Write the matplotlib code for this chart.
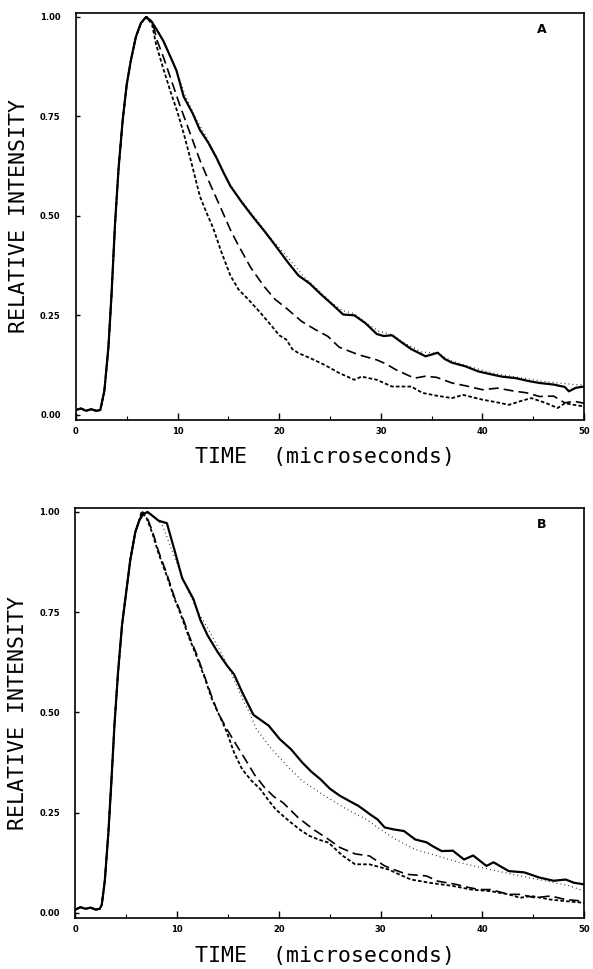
import numpy as np
import matplotlib
matplotlib.use("Agg")
import matplotlib.pyplot as plt
from matplotlib.ticker import MultipleLocator, FormatStrFormatter

# shared rise of the pulse (time in microseconds, relative intensity)
rise_A_t = [0.0, 0.5, 1.0, 1.5, 2.0, 2.4, 2.8, 3.2, 3.5, 3.85, 4.2, 4.6, 5.0, 5.4, 5.9, 6.4]
rise_A_y = [0.012, 0.016, 0.010, 0.014, 0.010, 0.012, 0.06, 0.17, 0.30, 0.48, 0.62, 0.74, 0.83, 0.89, 0.95, 0.985]

# panel A decays
A_solid_t = [6.9, 7.4, 7.9, 8.6, 9.3, 9.9, 10.6, 11.5, 12.2, 13.0, 13.85, 14.5, 15.2, 16.3, 17.4, 18.6,
             19.7, 20.8, 21.9, 23.0, 24.1, 25.2, 26.3, 27.4, 28.5, 29.6, 30.3, 31.1, 32.0, 33.0, 34.4,
             35.6, 36.3, 37.0, 38.3, 39.6, 40.8, 41.9, 43.3, 44.5, 45.6, 47.0, 48.1, 48.5, 49.2, 50.0]
A_solid_y = [1.0, 0.99, 0.97, 0.94, 0.90, 0.865, 0.80, 0.757, 0.716, 0.685, 0.645, 0.61, 0.575, 0.535,
             0.498, 0.46, 0.423, 0.385, 0.350, 0.330, 0.303, 0.278, 0.252, 0.250, 0.230, 0.203, 0.198,
             0.200, 0.183, 0.165, 0.147, 0.156, 0.140, 0.131, 0.122, 0.109, 0.102, 0.096, 0.092, 0.085,
             0.080, 0.076, 0.070, 0.059, 0.068, 0.071]

A_dot_t = [6.9, 7.5, 8.2, 9.0, 9.8, 10.8, 11.8, 12.8, 13.8, 15.0, 16.2, 17.5, 18.8, 20.0, 21.2, 22.5,
           23.8, 25.0, 26.2, 27.3, 28.5, 29.8, 31.0, 32.5, 34.0, 35.5, 37.0, 38.5, 40.0, 41.5, 43.0,
           44.5, 46.0, 47.5, 49.0, 50.0]
A_dot_y = [1.0, 0.99, 0.96, 0.915, 0.87, 0.80, 0.745, 0.70, 0.65, 0.585, 0.54, 0.50, 0.455, 0.42,
           0.385, 0.345, 0.315, 0.285, 0.262, 0.255, 0.232, 0.210, 0.202, 0.178, 0.158, 0.155, 0.135,
           0.123, 0.112, 0.102, 0.096, 0.090, 0.084, 0.080, 0.076, 0.075]

A_dash_t = [6.9, 7.6, 8.0, 8.6, 9.4, 10.2, 11.2, 12.2, 13.2, 14.2, 15.2, 15.9, 17.2, 18.5, 19.6, 20.7,
            22.2, 23.5, 24.8, 25.9, 27.8, 29.6, 30.5, 31.5, 33.3, 34.4, 35.5, 37.0, 38.5, 40.0, 41.5,
            43.0, 44.4, 45.6, 47.0, 48.1, 49.0, 50.0]
A_dash_y = [1.0, 0.98, 0.94, 0.90, 0.84, 0.78, 0.71, 0.64, 0.58, 0.523, 0.465, 0.43, 0.37, 0.323,
            0.29, 0.268, 0.235, 0.215, 0.197, 0.170, 0.151, 0.138, 0.128, 0.113, 0.092, 0.097, 0.094,
            0.080, 0.072, 0.063, 0.067, 0.060, 0.055, 0.046, 0.047, 0.030, 0.034, 0.029]

A_short_t = [7.0, 7.5, 7.9, 8.6, 9.25, 10.0, 10.6, 11.4, 12.2, 12.9, 13.5, 14.3, 15.2, 16.0, 17.0,
             18.2, 19.3, 20.0, 20.7, 21.3, 21.9, 23.0, 24.1, 25.0, 25.9, 27.4, 28.1, 29.6, 31.1, 33.0,
             34.1, 35.5, 37.0, 38.1, 40.0, 41.3, 42.6, 43.7, 44.8, 46.3, 47.4, 48.1, 49.0, 50.0]
A_short_y = [1.0, 0.98, 0.93, 0.87, 0.817, 0.76, 0.708, 0.63, 0.549, 0.505, 0.47, 0.41, 0.35, 0.315,
             0.289, 0.255, 0.222, 0.200, 0.189, 0.165, 0.155, 0.143, 0.130, 0.118, 0.105, 0.088,
             0.096, 0.088, 0.071, 0.071, 0.055, 0.048, 0.042, 0.050, 0.038, 0.032, 0.025, 0.034,
             0.042, 0.029, 0.017, 0.029, 0.025, 0.021]

# panel B
rise_B_t = [0.0, 0.5, 1.0, 1.5, 2.0, 2.4, 2.6, 2.9, 3.25, 3.55, 3.85, 4.2, 4.6, 5.0, 5.4, 5.9, 6.3]
rise_B_y = [0.008, 0.014, 0.010, 0.013, 0.008, 0.010, 0.02, 0.08, 0.20, 0.33, 0.47, 0.60, 0.72, 0.80,
            0.88, 0.95, 0.98]

B_solid_t = [6.7, 7.1, 7.6, 8.2, 9.0, 9.8, 10.5, 11.6, 12.3, 13.0, 14.0, 14.9, 15.6, 16.4, 17.5, 19.0,
             20.1, 21.2, 22.3, 23.2, 24.1, 25.0, 26.0, 27.0, 27.8, 28.2, 29.0, 29.7, 30.4, 31.3, 32.3,
             33.4, 34.5, 35.2, 36.0, 37.1, 38.2, 39.1, 40.4, 41.1, 42.6, 44.1, 45.6, 47.0, 48.2, 49.0,
             50.0]
B_solid_y = [0.995, 1.0, 0.99, 0.978, 0.972, 0.90, 0.835, 0.783, 0.73, 0.692, 0.65, 0.617, 0.595,
             0.55, 0.494, 0.467, 0.433, 0.408, 0.375, 0.352, 0.333, 0.310, 0.292, 0.278, 0.267, 0.260,
             0.245, 0.233, 0.213, 0.208, 0.204, 0.183, 0.176, 0.165, 0.154, 0.155, 0.133, 0.143,
             0.117, 0.126, 0.104, 0.101, 0.088, 0.080, 0.083, 0.075, 0.071]

B_dot_t = [6.7, 7.3, 7.9, 8.6, 9.7, 10.8, 11.9, 13.0, 14.2, 15.3, 16.4, 17.1, 17.8, 19.3, 20.8, 22.3,
           24.5, 26.7, 28.6, 29.7, 31.5, 33.4, 35.6, 37.8, 40.8, 43.7, 46.3, 48.5, 50.0]
B_dot_y = [0.99, 0.998, 0.985, 0.965, 0.89, 0.82, 0.758, 0.71, 0.655, 0.60, 0.535, 0.50, 0.458, 0.408,
           0.367, 0.329, 0.292, 0.258, 0.233, 0.213, 0.183, 0.158, 0.142, 0.125, 0.108, 0.092, 0.079,
           0.068, 0.054]

B_dash_t = [6.6, 7.0, 7.6, 8.2, 9.0, 9.7, 10.5, 11.2, 12.0, 12.7, 13.4, 14.0, 14.9, 15.8, 16.7, 17.6,
            18.6, 19.5, 20.4, 21.9, 23.4, 24.9, 26.0, 27.5, 28.9, 30.4, 31.5, 32.6, 34.5, 35.6, 37.4,
            38.5, 39.7, 40.8, 42.6, 43.7, 45.2, 46.7, 48.2, 50.0]
B_dash_y = [1.0, 0.99, 0.95, 0.90, 0.845, 0.79, 0.74, 0.69, 0.64, 0.59, 0.54, 0.50, 0.458, 0.42,
            0.383, 0.345, 0.3125, 0.29, 0.275, 0.2375, 0.208, 0.183, 0.163, 0.147, 0.142, 0.117,
            0.106, 0.096, 0.092, 0.079, 0.071, 0.064, 0.058, 0.058, 0.046, 0.046, 0.0375, 0.042,
            0.033, 0.029]

B_short_t = [6.5, 7.0, 7.6, 8.2, 9.0, 9.7, 10.5, 11.2, 12.0, 12.7, 13.4, 14.2, 14.9, 15.6, 16.4, 17.3,
             18.2, 19.0, 19.7, 20.5, 21.2, 22.1, 23.0, 24.0, 24.9, 25.6, 26.3, 27.5, 28.9, 30.8, 31.9,
             33.0, 34.8, 37.1, 38.9, 40.8, 42.6, 43.7, 44.8, 46.7, 48.2, 50.0]
B_short_y = [1.0, 0.985, 0.945, 0.895, 0.84, 0.787, 0.735, 0.685, 0.635, 0.587, 0.535, 0.49, 0.45,
             0.40, 0.358, 0.33, 0.308, 0.28, 0.258, 0.24, 0.225, 0.207, 0.192, 0.182, 0.175, 0.158,
             0.142, 0.121, 0.121, 0.108, 0.095, 0.083, 0.075, 0.067, 0.058, 0.054, 0.046, 0.0375,
             0.042, 0.033, 0.029, 0.025]

panels = [
    ("A", rise_A_t, rise_A_y, [(A_solid_t, A_solid_y), (A_dot_t, A_dot_y), (A_dash_t, A_dash_y), (A_short_t, A_short_y)]),
    ("B", rise_B_t, rise_B_y, [(B_solid_t, B_solid_y), (B_dot_t, B_dot_y), (B_dash_t, B_dash_y), (B_short_t, B_short_y)]),
]

styles = [
    dict(linestyle='-', linewidth=1.6),
    dict(linestyle=(0, (0.6, 2.6)), linewidth=0.9),
    dict(linestyle=(0, (6, 3)), linewidth=1.2),
    dict(linestyle=(0, (2, 1.2)), linewidth=1.3),
]

fig = plt.figure(figsize=(5.93, 9.69), dpi=100)
# axes boxes in figure fractions [left, bottom, width, height]
boxes = [[0.128, 0.5666, 0.857, 0.420], [0.127, 0.0526, 0.858, 0.4232]]

for (letter, rt, ry, curves), box in zip(panels, boxes):
    ax = fig.add_axes(box)
    for (t, y), st in zip(curves, styles):
        ax.plot(list(rt) + list(t), list(ry) + list(y), color='black', **st)

    ax.set_xlim(0, 50)
    ax.set_ylim(-0.013, 1.01)
    ax.xaxis.set_major_locator(MultipleLocator(10))
    ax.xaxis.set_minor_locator(MultipleLocator(5))
    ax.yaxis.set_major_locator(MultipleLocator(0.25))
    ax.yaxis.set_major_formatter(FormatStrFormatter('%.2f'))
    ax.tick_params(axis='x', which='major', direction='in', length=5, width=1, pad=5,
                   labelsize=6)
    ax.tick_params(axis='x', which='minor', direction='in', length=3, width=0.8)
    ax.tick_params(axis='y', direction='in', length=3, width=1, pad=11, labelsize=6)
    for lab in ax.get_xticklabels() + ax.get_yticklabels():
        lab.set_fontweight('bold')
    for sp in ax.spines.values():
        sp.set_linewidth(1.2)

    ax.set_xlabel('TIME  (microseconds)', family='DejaVu Sans Mono', fontsize=15.5, va='center')
    ax.xaxis.set_label_coords(0.49, -0.092)
    ax.set_ylabel('RELATIVE INTENSITY', family='DejaVu Sans Mono', fontsize=15.5, va='center')
    ax.yaxis.set_label_coords(-0.112, 0.5)

    ax.text(0.917, 0.96, letter, transform=ax.transAxes, ha='center', va='center',
            fontsize=9, fontweight='bold')

fig.savefig('out.png', dpi=100)
